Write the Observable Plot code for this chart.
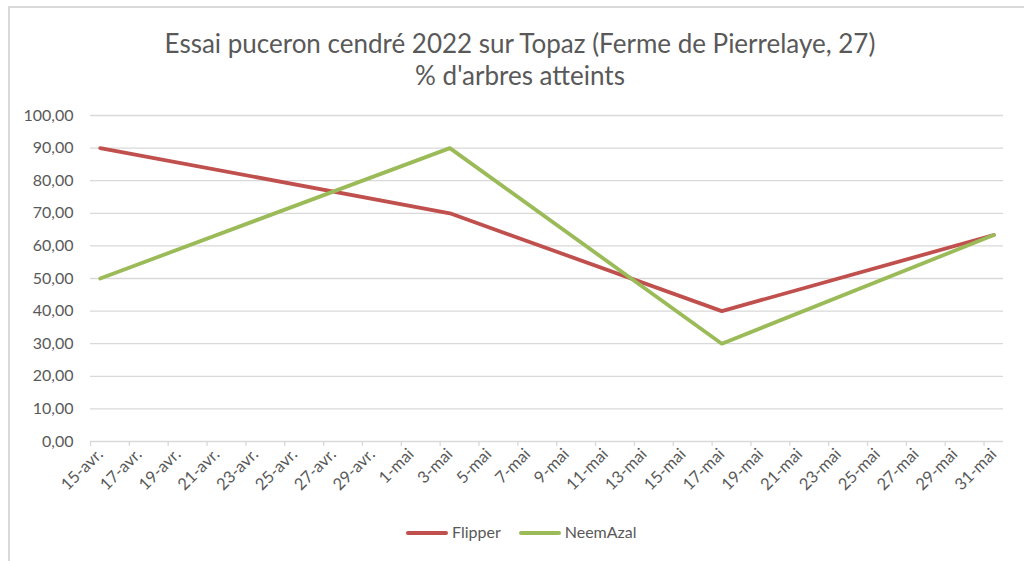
<!DOCTYPE html>
<html>
<head>
<meta charset="utf-8">
<script src="https://cdn.jsdelivr.net/npm/d3@7"></script>
<script src="https://cdn.jsdelivr.net/npm/@observablehq/plot@0.6"></script>
<style>
  html, body { margin: 0; padding: 0; background: #fff; }
  #wrap { position: relative; width: 1024px; height: 561px; overflow: hidden; font-family: Lato, "Open Sans", sans-serif; color: #595959; }
  #frame { position: absolute; left: 8px; top: 6px; width: 1100px; height: 700px; border-top: 2px solid #d9d9d9; border-left: 2px solid #d9d9d9; }
  #title { position: absolute; left: 0; width: 1040px; top: 27px; text-align: center; font-size: 26px; line-height: 32px; color: #595959; }
  #chart { position: absolute; left: 0; top: 0; }
  #legend { position: absolute; top: 522px; left: 406px; font-size: 16px; white-space: nowrap; }
  #legend .item { display: inline-block; margin-right: 18px; }
  #legend .sw { display: inline-block; width: 42px; height: 4px; border-radius: 2px; vertical-align: middle; margin-right: 4px; position: relative; top: -1px; }
</style>
</head>
<body>
<div id="wrap">
  <div id="frame"></div>
  <div id="chart"></div>
  <div id="title">Essai puceron cendré 2022 sur Topaz (Ferme de Pierrelaye, 27)<br>% d'arbres atteints</div>
  <div id="legend"></div>
</div>
<script>
// ---- data ----
const dates = ["2022-04-15", "2022-05-03", "2022-05-17", "2022-05-31"];
const flipper = [90, 70, 40, 63.33];
const neemAzal = [50, 90, 30, 63.33];
const seriesNames = ["Flipper", "NeemAzal"];
const seriesColors = ["#C0504D", "#9BBB59"];
const tickDates = ["2022-04-15","2022-04-17","2022-04-19","2022-04-21","2022-04-23","2022-04-25","2022-04-27","2022-04-29",
  "2022-05-01","2022-05-03","2022-05-05","2022-05-07","2022-05-09","2022-05-11","2022-05-13","2022-05-15",
  "2022-05-17","2022-05-19","2022-05-21","2022-05-23","2022-05-25","2022-05-27","2022-05-29","2022-05-31"];
const tickLabels = ["15-avr.","17-avr.","19-avr.","21-avr.","23-avr.","25-avr.","27-avr.","29-avr.",
  "1-mai","3-mai","5-mai","7-mai","9-mai","11-mai","13-mai","15-mai",
  "17-mai","19-mai","21-mai","23-mai","25-mai","27-mai","29-mai","31-mai"];
const yTicks = [0, 10, 20, 30, 40, 50, 60, 70, 80, 90, 100];

// ---- build ----
const parse = s => new Date(s + "T00:00:00Z");
const HALF = 12 * 3600 * 1000;
const rows = [];
dates.forEach((d, i) => {
  rows.push({date: parse(d), value: flipper[i], series: seriesNames[0]});
});
dates.forEach((d, i) => {
  rows.push({date: parse(d), value: neemAzal[i], series: seriesNames[1]});
});
const tickD = tickDates.map(parse);
const labelMap = new Map(tickD.map((d, i) => [+d, tickLabels[i]]));
const boundaries = tickD.map(d => new Date(+d - HALF));
const xDomain = [new Date(+parse(dates[0]) - HALF), new Date(+parse(dates[dates.length - 1]) + HALF)];

const plot = Plot.plot({
  width: 1024,
  height: 561,
  marginLeft: 90,
  marginRight: 21,
  marginTop: 115,
  marginBottom: 120,
  style: {fontFamily: "Lato, 'Open Sans', sans-serif", fontSize: "16px", color: "#595959", background: "transparent", overflow: "visible"},
  x: {type: "utc", domain: xDomain},
  y: {domain: [0, 100]},
  color: {domain: seriesNames, range: seriesColors},
  marks: [
    Plot.gridY(yTicks, {stroke: "#d9d9d9", strokeOpacity: 1, strokeWidth: 1.3}),
    Plot.axisY({ticks: yTicks, tickSize: 0, tickPadding: 17, tickFormat: d => d.toFixed(2).replace(".", ","), label: null, fill: "#595959", fontSize: 16}),
    Plot.axisX({ticks: boundaries, tickSize: 5, stroke: "#d9d9d9", strokeOpacity: 1, strokeWidth: 1.3, tickFormat: () => "", label: null}),
    Plot.axisX({ticks: tickD, tickSize: 0, tickPadding: 10, tickRotate: -45, tickFormat: d => labelMap.get(+d), label: null, fill: "#595959", fontSize: 16.5}),
    Plot.line(rows, {x: "date", y: "value", stroke: "series", z: "series", strokeWidth: 3.8, strokeLinejoin: "round", strokeLinecap: "round"})
  ]
});
document.getElementById("chart").appendChild(plot);

const legend = document.getElementById("legend");
seriesNames.forEach((n, i) => {
  const item = document.createElement("span");
  item.className = "item";
  const sw = document.createElement("span");
  sw.className = "sw";
  sw.style.background = seriesColors[i];
  item.appendChild(sw);
  item.appendChild(document.createTextNode(n));
  legend.appendChild(item);
});
</script>
</body>
</html>
